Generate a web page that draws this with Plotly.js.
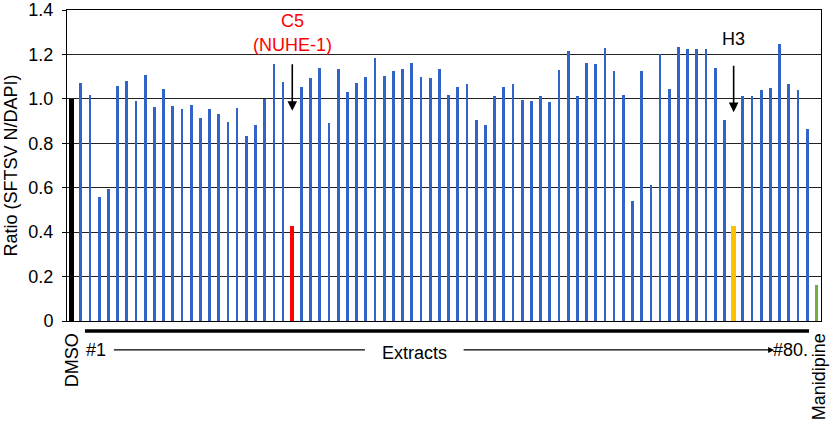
<!DOCTYPE html>
<html>
<head>
<meta charset="utf-8">
<script src="https://cdn.plot.ly/plotly-3.0.1.min.js"></script>
<style>html,body{margin:0;padding:0;background:#fff;}#chart{width:833px;height:430px;}</style>
</head>
<body>
<div id="chart"></div>
<script>
// ---- data ----
const controlLabel = 'DMSO';
const controlValue = 1.0;
const drugLabel = 'Manidipine';
const drugValue = 0.164;
const extractValues = [
  1.072,1.017,0.556,0.596,1.060,1.082,0.990,1.109,0.963,1.044,
  0.969,0.953,0.974,0.914,0.953,0.930,0.897,0.957,0.833,0.881,
  1.000,1.158,1.078,0.426,1.054,1.093,1.140,0.893,1.136,1.029,
  1.072,1.099,1.185,1.103,1.126,1.136,1.163,1.099,1.093,1.136,
  1.017,1.054,1.066,0.905,0.881,1.011,1.054,1.066,0.996,0.990,
  1.011,0.985,1.131,1.216,1.011,1.163,1.157,1.227,1.126,1.017,
  0.541,1.126,0.611,1.202,1.044,1.233,1.223,1.223,1.223,1.140,
  0.903,0.426,1.011,1.011,1.039,1.049,1.249,1.066,1.039,0.866
];
const hitC5 = 24;   // extract number
const hitH3 = 72;   // extract number
const yTickVals = [0,0.2,0.4,0.6,0.8,1.0,1.2,1.4];
const yTickText = ['0','0.2','0.4','0.6','0.8','1.0','1.2','1.4'];

// ---- build ----
const labels = [controlLabel].concat(extractValues.map((v,i)=>'#'+(i+1))).concat([drugLabel]);
const values = [controlValue].concat(extractValues).concat([drugValue]);
const xs = labels.map((l,i)=>i);
const last = labels.length-1;
const colors = labels.map((l,i)=>{
  if (i===0) return '#000000';
  if (i===last) return '#70ad47';
  if (i===hitC5) return '#ff0000';
  if (i===hitH3) return '#ffc000';
  return '#3264c8';
});
const widths = labels.map((l,i)=> (i===0||i===hitC5||i===hitH3) ? 0.48 : (i===last ? 0.32 : 0.3));

const font = 'Liberation Sans, Arial, sans-serif';
const fs = 18;
const trace = {
  type:'bar', x: xs, y: values, text: labels, hoverinfo:'text+y', textposition:'none',
  marker:{color: colors, line:{width:0}}, width: widths
};

const annotations = [
  {x: hitC5, y: 0.946, xref:'x', yref:'y', text:'', showarrow:true,
   ax:0, ay:-48, arrowhead:2, arrowsize:1.2, arrowwidth:1.6, arrowcolor:'#000', standoff:0},
  {x: hitH3, y: 0.94, xref:'x', yref:'y', text:'', showarrow:true,
   ax:0, ay:-48, arrowhead:2, arrowsize:1.2, arrowwidth:1.6, arrowcolor:'#000', standoff:0},
  {x: hitC5, y: 1.352, xref:'x', yref:'y', text:'C5', showarrow:false, font:{family:font,size:fs,color:'#ff0000'}},
  {x: hitC5, y: 1.241, xref:'x', yref:'y', text:'(NUHE-1)', showarrow:false, font:{family:font,size:fs,color:'#ff0000'}},
  {x: hitH3, y: 1.27, xref:'x', yref:'y', text:'H3', showarrow:false, font:{family:font,size:fs,color:'#000'}},
  {x: 0, y: -0.034, xref:'x', yref:'paper', text:controlLabel, textangle:-90, xanchor:'center', yanchor:'top',
   showarrow:false, font:{family:font,size:fs,color:'#000'}},
  {x: last+0.3, y: -0.034, xref:'x', yref:'paper', text:drugLabel, textangle:-90, xanchor:'center', yanchor:'top',
   showarrow:false, font:{family:font,size:fs,color:'#000'}},
  {x: 2.6, y: -0.093, xref:'x', yref:'paper', text:'#1', showarrow:false, xanchor:'center', yanchor:'middle',
   font:{family:font,size:fs,color:'#000'}},
  {x: 0.4615, y: -0.102, xref:'paper', yref:'paper', text:'Extracts', showarrow:false, xanchor:'center', yanchor:'middle',
   font:{family:font,size:fs,color:'#000'}},
  {x: 78.2, y: -0.093, xref:'x', yref:'paper', text:'#80.', showarrow:false, xanchor:'center', yanchor:'middle',
   font:{family:font,size:fs,color:'#000'}},
  {x: 76.4, y: -0.093, xref:'x', yref:'paper', text:'', showarrow:true, ax:-312, ay:0,
   arrowhead:2, arrowsize:1, arrowwidth:1.2, arrowcolor:'#000', standoff:0}
];

const shapes = [
  {type:'line', xref:'x', yref:'paper', x0:1.45, x1:80.2, y0:-0.032, y1:-0.032, line:{color:'#000', width:3.5}},
  {type:'line', xref:'x', yref:'paper', x0:4.6, x1:31.9, y0:-0.093, y1:-0.093, line:{color:'#000', width:1.1}}
];

const layout = {
  width:833, height:430,
  margin:{l:67, r:12, t:10, b:109},
  paper_bgcolor:'#fff', plot_bgcolor:'#fff',
  showlegend:false,
  bargap:0,
  font:{family:font, size:fs, color:'#000'},
  xaxis:{range:[-0.5, labels.length-0.5], showticklabels:false, ticks:'', showgrid:false, zeroline:false,
         showline:true, mirror:true, linecolor:'#000', linewidth:1, fixedrange:true},
  yaxis:{range:[0,1.4], tickvals:yTickVals, ticktext:yTickText, ticks:'outside', ticklen:4, tickcolor:'#000',
         ticklabelstandoff:5, ticklabeloverflow:'allow',
         showgrid:true, gridcolor:'#222', gridwidth:1, zeroline:false,
         showline:true, mirror:true, linecolor:'#000', linewidth:1,
         tickfont:{family:font, size:fs, color:'#000'},
         title:{text:'Ratio (SFTSV N/DAPI)', font:{family:font, size:fs, color:'#000'}, standoff:6}},
  annotations: annotations,
  shapes: shapes
};

Plotly.newPlot('chart', [trace], layout, {displayModeBar:false, staticPlot:true});
</script>
</body>
</html>
